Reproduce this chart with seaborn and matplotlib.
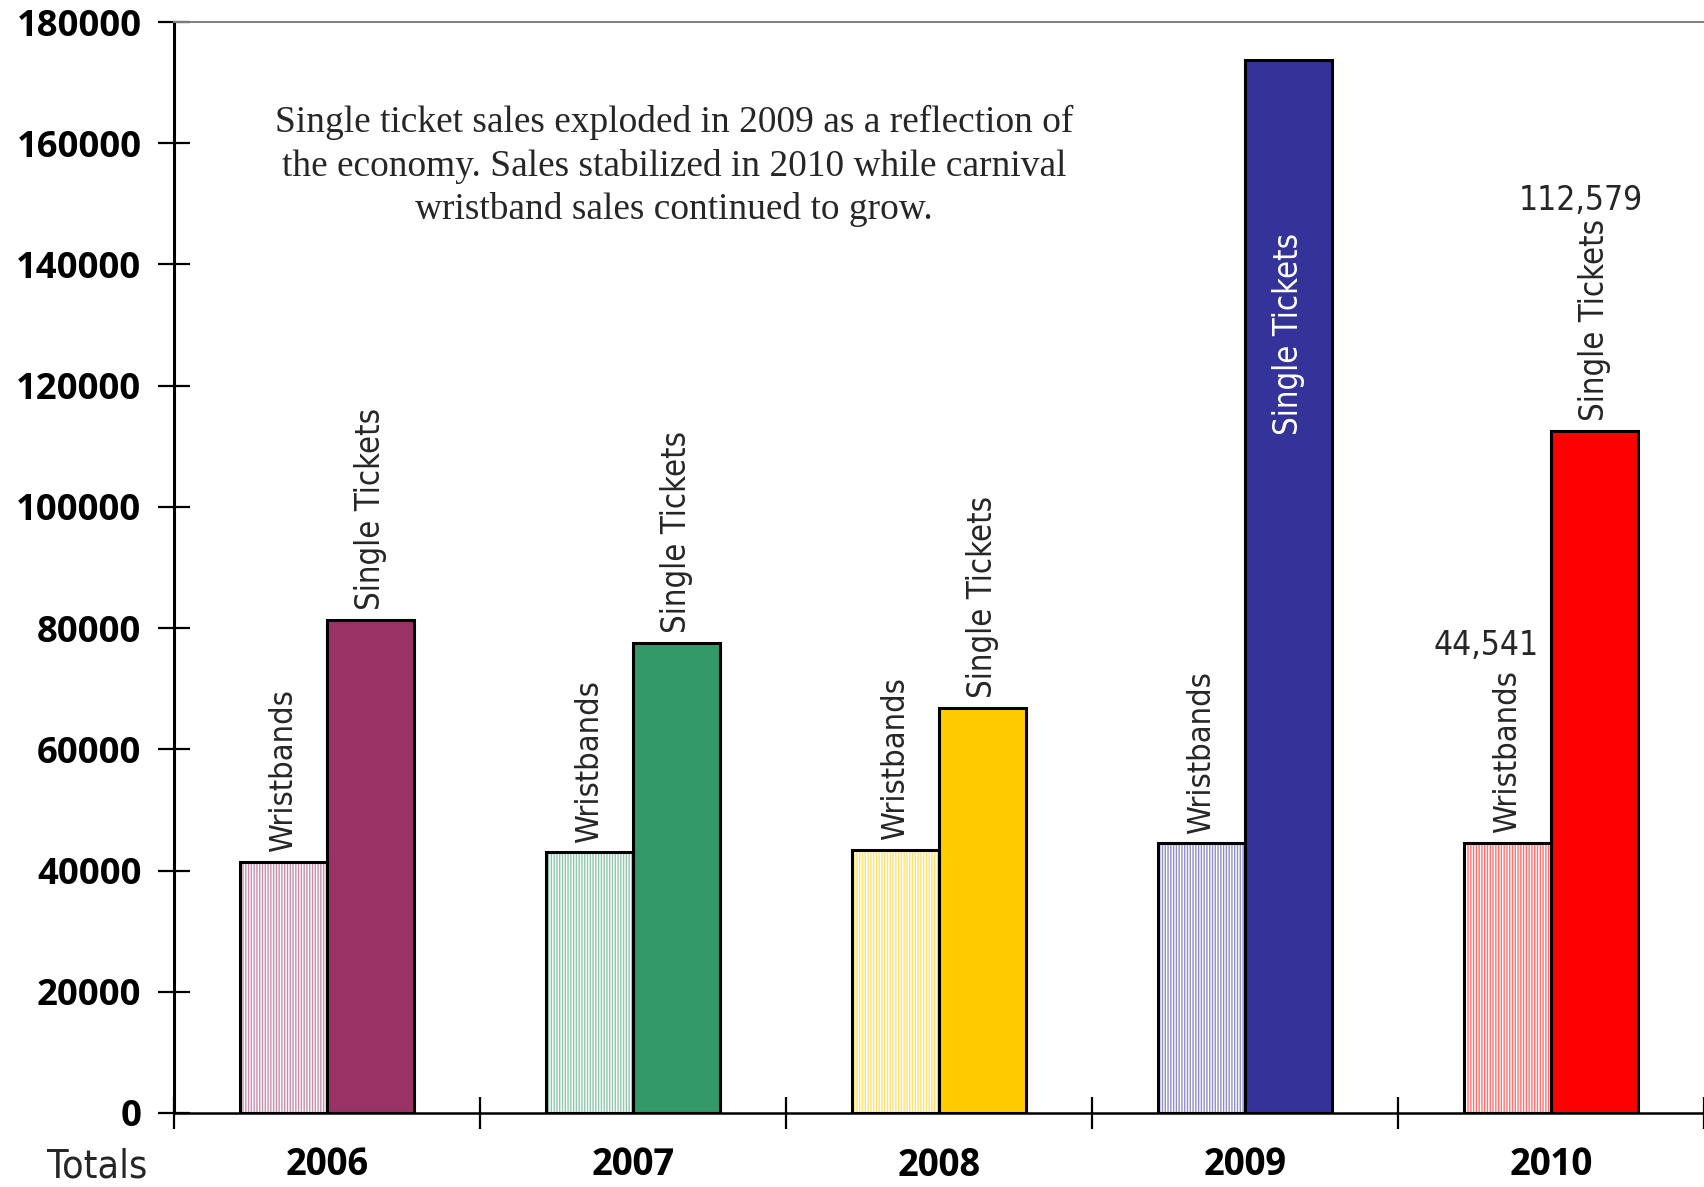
import numpy as np
import pandas as pd
import matplotlib
matplotlib.use("Agg")
import matplotlib.pyplot as plt
from matplotlib import colors as mcolors
from matplotlib import font_manager as fm
from matplotlib.font_manager import FontProperties
from matplotlib.patches import Rectangle
import seaborn as sns

# ---- data -------------------------------------------------------------
years = ["2006", "2007", "2008", "2009", "2010"]
wristbands = [41400, 43000, 43400, 44500, 44541]
single_tickets = [81400, 77600, 66900, 173700, 112579]
year_colors = ["#993366", "#339966", "#FFCC00", "#333399", "#FF0000"]
y_ticks = [0, 20000, 40000, 60000, 80000, 100000, 120000, 140000, 160000, 180000]
note = ("Single ticket sales exploded in 2009 as a reflection of\n"
        "the economy. Sales stabilized in 2010 while carnival\n"
        "wristband sales continued to grow.")

df = pd.DataFrame({
    "year": years * 2,
    "sales": wristbands + single_tickets,
    "type": ["Wristbands"] * len(years) + ["Single Tickets"] * len(years),
})

# ---- fonts ------------------------------------------------------------
sns.set_theme(style="white")
available = {f.name for f in fm.fontManager.ttflist}

def pick(cands, default="DejaVu Sans"):
    for c in cands:
        if c in available:
            return c
    return default

_STRETCH = {"ultra-condensed": 50, "extra-condensed": 62, "condensed": 75,
            "semi-condensed": 87, "normal": 100}

def condensed_font(bold=False, stretch=75):
    """Installed sans face closest to the requested weight and width."""
    prio = ["Noto Sans", "Open Sans", "Liberation Sans Narrow", "DejaVu Sans", "Roboto", "Lato", "Inter"]
    best, best_score = None, None
    for f in fm.fontManager.ttflist:
        name = f.name
        base = next((i for i, p in enumerate(prio) if name == p or name.startswith(p + " ")), None)
        if base is None or f.style != "normal":
            continue
        if any(k in name for k in ("Mono", "Display", "Symbols", "Math", "CJK")):
            continue
        st = f.stretch
        st = _STRETCH.get(st, 100) if isinstance(st, str) else int(st)
        if "Narrow" in name:
            st = min(st, 82)
        elif "ExtraCondensed" in name.replace(" ", ""):
            st = min(st, 62)
        elif "SemiCondensed" in name.replace(" ", ""):
            st = min(st, 87)
        elif "Condensed" in name:
            st = min(st, 75)
        w = f.weight if isinstance(f.weight, int) else fm.weight_dict.get(f.weight, 400)
        score = (abs(w - (700 if bold else 400)) // 100, abs(st - stretch) // 5, base)
        if best_score is None or score < best_score:
            best, best_score = f.fname, score
    if best is not None:
        return FontProperties(fname=best)
    return FontProperties(family="DejaVu Sans", weight="bold" if bold else "normal")

fp_xcond = condensed_font(False, 62)
fp_cond = condensed_font(False, 75)
fp_semi_bold = condensed_font(True, 87)
tickfont = pick(["Open Sans", "Lato", "Noto Sans"])
serif = pick(["Liberation Serif", "DejaVu Serif"])

fig = plt.figure(figsize=(17.04, 11.87), dpi=100)
renderer = fig.canvas.get_renderer()

def sized(fp, text, width_px):
    """Copy of fp whose size makes `text` about width_px wide."""
    probe = fp.copy()
    probe.set_size(20)
    t = fig.text(0, 0, text, fontproperties=probe)
    w = t.get_window_extent(renderer).width
    t.remove()
    out = fp.copy()
    out.set_size(20 * width_px / w)
    return out

fp_single = sized(fp_xcond, "Single Tickets", 202)
fp_wrist = sized(fp_xcond, "Wristbands", 163)
fp_value = sized(fp_cond, "112,579", 124)
fp_year = sized(fp_semi_bold, "2006", 83)
fp_totals = sized(fp_cond, "Totals", 100)
fp_ytick = sized(FontProperties(family=tickfont, weight="bold"), "180000", 125)
fp_note = sized(FontProperties(family=serif),
                "Single ticket sales exploded in 2009 as a reflection of", 799)

ax = fig.add_axes([174 / 1704, 1 - 1113 / 1187, 1 - 174 / 1704, (1113 - 22) / 1187])

sns.barplot(data=df, x="year", y="sales", hue="type", order=years,
            hue_order=["Wristbands", "Single Tickets"], width=0.57,
            palette=["#dddddd", "#888888"], saturation=1, errorbar=None,
            edgecolor="black", linewidth=2.2, legend=False, ax=ax)

wb_bars, st_bars = ax.containers[0], ax.containers[1]

def tint(c, amount):
    r, g, b = mcolors.to_rgb(c)
    return (r + (1 - r) * amount, g + (1 - g) * amount, b + (1 - b) * amount)

plt.rcParams["hatch.linewidth"] = 1.1
# Wristbands: light vertical stripes in the year's colour, black outline on top
for patch, col in zip(wb_bars.patches, year_colors):
    patch.set_facecolor("white")
    patch.set_edgecolor(tint(col, 0.45))
    patch.set_hatch("||||||")
    patch.set_linewidth(0)
    ax.add_patch(Rectangle(patch.get_xy(), patch.get_width(), patch.get_height(),
                           fill=False, edgecolor="black", linewidth=2.2,
                           zorder=patch.get_zorder() + 0.1))

for patch, col in zip(st_bars.patches, year_colors):
    patch.set_facecolor(col)

# ---- rotated bar labels -----------------------------------------------
lab_kw = dict(rotation=90, ha="center", textcoords="offset points")
for patch, val in zip(wb_bars.patches, wristbands):
    cx = patch.get_x() + patch.get_width() / 2
    ax.annotate("Wristbands", (cx, val), xytext=(0, 7), va="bottom",
                fontproperties=fp_wrist, **lab_kw)
for i, (patch, val) in enumerate(zip(st_bars.patches, single_tickets)):
    cx = patch.get_x() + patch.get_width() / 2
    if years[i] == "2009":
        ax.annotate("Single Tickets", (cx, val), xytext=(0, -124), va="top",
                    color="white", fontproperties=fp_single, **lab_kw)
    else:
        ax.annotate("Single Tickets", (cx, val), xytext=(0, 7), va="bottom",
                    fontproperties=fp_single, **lab_kw)

# value call-outs for the latest year
last = len(years) - 1
for bars, vals, dx, dy in [(wb_bars, wristbands, -15, 142), (st_bars, single_tickets, -10, 166)]:
    p = bars.patches[last]
    ax.annotate(f"{vals[last]:,}", (p.get_x() + p.get_width() / 2, vals[last]),
                xytext=(dx, dy), textcoords="offset points", ha="center", va="center",
                fontproperties=fp_value)

# ---- note ---------------------------------------------------------------
ax.text(0.327, 0.868, note, transform=ax.transAxes, ha="center", va="center",
        multialignment="center", fontproperties=fp_note, linespacing=1.3)

# ---- axes ---------------------------------------------------------------
ax.set_ylim(0, 180000)
ax.set_yticks(y_ticks)
ax.set_yticklabels([str(v) for v in y_ticks])
for lbl in ax.get_yticklabels():
    lbl.set_fontproperties(fp_ytick)
ax.set_xlim(-0.5, len(years) - 0.51)
ax.set_xticks(np.arange(-0.5, len(years) + 0.5, 1.0))
ax.set_xticklabels([])
ax.set_xticks(np.arange(len(years)), minor=True)
ax.set_xticklabels(years, minor=True)
for lbl in ax.get_xticklabels(minor=True):
    lbl.set_fontproperties(fp_year)
ax.tick_params(axis="both", which="major", direction="inout", length=23, width=1.6,
               color="black", left=True, bottom=True)
ax.tick_params(axis="y", which="major", pad=12, labelcolor="black")
ax.tick_params(axis="x", which="minor", length=0, pad=25, labelcolor="black")
ax.set_xlabel("")
ax.set_ylabel("")
ax.annotate("Totals", (-0.75, 0), xycoords=("data", "axes fraction"),
            xytext=(0, -25), textcoords="offset points", ha="center", va="top",
            fontproperties=fp_totals, annotation_clip=False)

ax.spines["left"].set_color("black")
ax.spines["left"].set_linewidth(2.2)
ax.spines["bottom"].set_color("black")
ax.spines["bottom"].set_linewidth(1.8)
ax.spines["top"].set_visible(True)
ax.spines["top"].set_color("#808080")
ax.spines["top"].set_linewidth(1.4)
ax.spines["right"].set_visible(False)

fig.savefig("out.png", dpi=100)
